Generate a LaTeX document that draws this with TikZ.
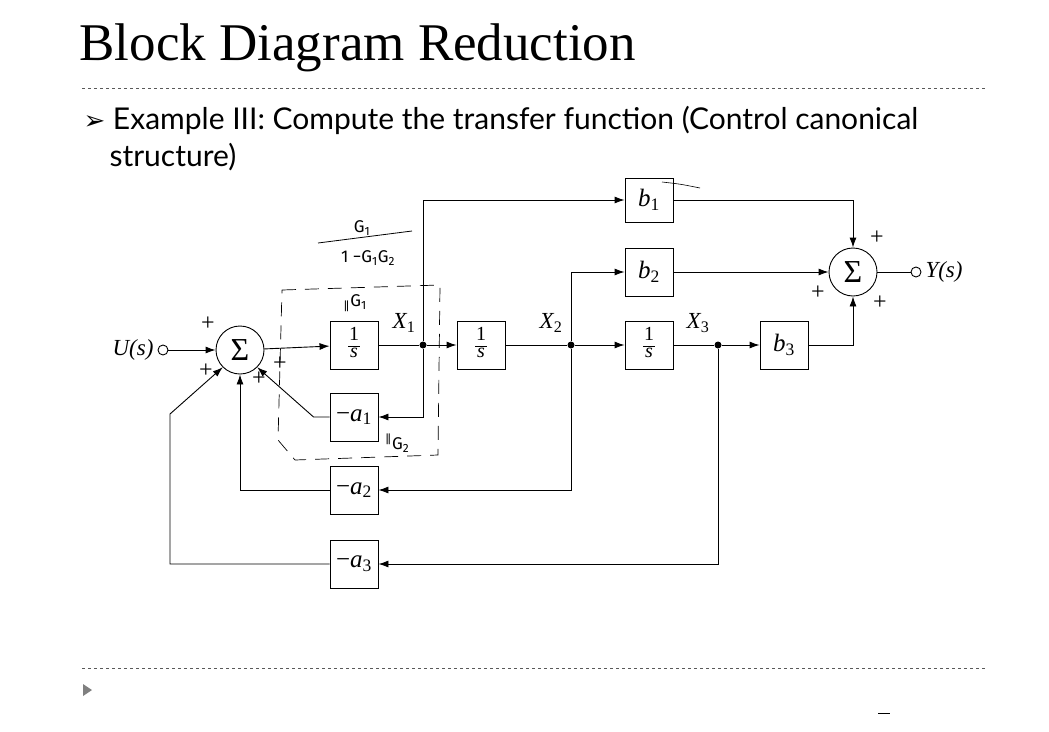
\documentclass[tikz,border=0pt]{standalone}
\usepackage{fontspec}
\setmainfont{Liberation Serif}
\newfontfamily\gill{Lato}
\newfontfamily\hand{Fira Sans}
\newfontfamily\dv{DejaVu Sans}
\usetikzlibrary{arrows.meta}
\newcommand{\myfrac}{{\fontsize{20}{20}\selectfont\renewcommand{\arraystretch}{0.8}\setlength{\arrayrulewidth}{0.7pt}\setlength{\tabcolsep}{1pt}\begin{tabular}{c}\upshape 1\\\hline\itshape s\end{tabular}}}
\begin{document}
\begin{tikzpicture}[x=1pt,y=-1pt,
  blk/.style={draw,line width=0.9pt,minimum width=48pt,minimum height=48pt,inner sep=0pt,font=\fontsize{25}{25}\selectfont\itshape},
  sm/.style={draw,circle,line width=0.9pt,minimum size=48pt,inner sep=0pt,font=\fontsize{32}{32}\selectfont},
  dot/.style={circle,fill,inner sep=0pt,minimum size=7pt},
  term/.style={circle,draw,inner sep=0pt,minimum size=10pt,line width=0.9pt},
  ar/.style={line width=0.9pt,-{Latex[length=10pt,width=7pt]}},
  ln/.style={line width=0.9pt},
  lbl/.style={font=\fontsize{23}{23}\selectfont\itshape},
  pl/.style={font=\fontsize{24}{24}\selectfont},
  hw/.style={font=\hand\fontsize{17}{17}\selectfont}]
\useasboundingbox (0,0) rectangle (1049,731);
% header
\node[anchor=west,font=\fontsize{53}{53}\selectfont] (title) at (76,48) {Block Diagram Reduction};
\coordinate (h1) at (82,88); \coordinate (h2) at (985,88);
\draw[dashed,line width=0.6pt,gray!70!black] (h1) -- (h2);
\node[anchor=west,font=\gill\fontsize{30}{30}\selectfont] (bul) at (80,120) {{\dv\fontsize{26}{26}\selectfont ➢}\ Example III: Compute the transfer function (Control canonical};
\node[anchor=west,font=\gill\fontsize{30}{30}\selectfont] (bul2) at (106,157) {structure)};
\coordinate (f1) at (82,668); \coordinate (f2) at (985,668);
\draw[dashed,line width=0.6pt,gray!70!black] (f1) -- (f2);
\fill[gray] (83,684) -- (92,690) -- (83,696) -- cycle;
\draw[line width=1pt] (878,713) -- (890,713);
% nodes
\node[term] (U) at (163,350) {};
\node[lbl,anchor=east] (Ul) at (157,350) {U(s)};
\node[sm] (S1) at (240,350) {Σ};
\node[blk] (I1) at (354,345) {\myfrac};
\node[dot] (X1) at (423,345) {};
\node[blk] (I2) at (481,345) {\myfrac};
\node[dot] (X2) at (571,345) {};
\node[blk] (I3) at (649,345) {\myfrac};
\node[dot] (X3) at (718,345) {};
\node[blk] (B3) at (784,345) {b\textsubscript{\upshape 3}};
\node[blk] (B2) at (649,272) {b\textsubscript{\upshape 2}};
\node[blk,minimum height=44pt] (B1) at (649,200) {b\textsubscript{\upshape 1}};
\node[sm] (S2) at (853,272) {Σ};
\node[term] (Y) at (916,272) {};
\node[lbl,anchor=west] (Yl) at (922,272) {Y(s)};
\node[blk] (A1) at (354,417) {{\upshape −}a\textsubscript{\upshape 1}};
\node[blk] (A2) at (354,490) {{\upshape −}a\textsubscript{\upshape 2}};
\node[blk] (A3) at (354,564) {{\upshape −}a\textsubscript{\upshape 3}};
\node[lbl] (x1l) at (404,323) {X\textsubscript{\upshape 1}};
\node[lbl] (x2l) at (551,323) {X\textsubscript{\upshape 2}};
\node[lbl] (x3l) at (698,323) {X\textsubscript{\upshape 3}};
% connectors
\draw[ar] (U) -- (S1);
\draw[ar] (S1) -- (I1);
\draw[ln] (I1) -- (X1);
\draw[ar] (X1) -- (I2);
\draw[ln] (I2) -- (X2);
\draw[ar] (X2) -- (I3);
\draw[ln] (I3) -- (X3);
\draw[ar] (X3) -- (B3);
\draw[ar] (X1) |- (A1);
\draw[ar] (A1.west) -- ++(-16,0) -- (S1.-45);
\draw[ar] (X2) |- (A2);
\draw[ar] (A2.west) -| (S1.south);
\draw[ar] (X3) |- (A3);
\coordinate (c3) at (170,414);
\draw[ar] (A3.west) -| (c3) -- (S1.-135);
\draw[ar] (X1) |- (B1);
\draw[ar] (X2) |- (B2);
\draw[ar] (B1.east) -| (S2.north);
\draw[ar] (B2) -- (S2);
\draw[ar] (B3.east) -| (S2.south);
\draw[ln] (S2) -- (Y);
% signs
\node[pl] at (208,324) {+};
\node[pl] at (206,371) {+};
\node[pl] at (280,364) {+};
\node[pl] at (259,379) {+};
\node[pl] at (877,238) {+};
\node[pl] at (818,293) {+};
\node[pl] at (880,303) {+};
% handwritten
\node[hw] (g1f) at (362,228) {G\textsubscript{1}};
\draw[line width=0.8pt] (318,243) -- (412,231);
\node[hw] (g1g2) at (368,258) {1 −G\textsubscript{1}G\textsubscript{2}};
\node[hw] (g1) at (355,303) {\textsubscript{\textbardbl}G\textsubscript{1}};
\node[hw] (g2) at (397,443) {\textsuperscript{\textbardbl}G\textsubscript{2}};
\draw[dash pattern=on 14pt off 9pt,line width=0.7pt] (282,290) -- (440,285) -- (438,455) -- (295,460) -- (278,440) -- cycle;
\draw[line width=0.6pt] (662,182) .. controls (680,184) .. (700,188);
\end{tikzpicture}
\end{document}
